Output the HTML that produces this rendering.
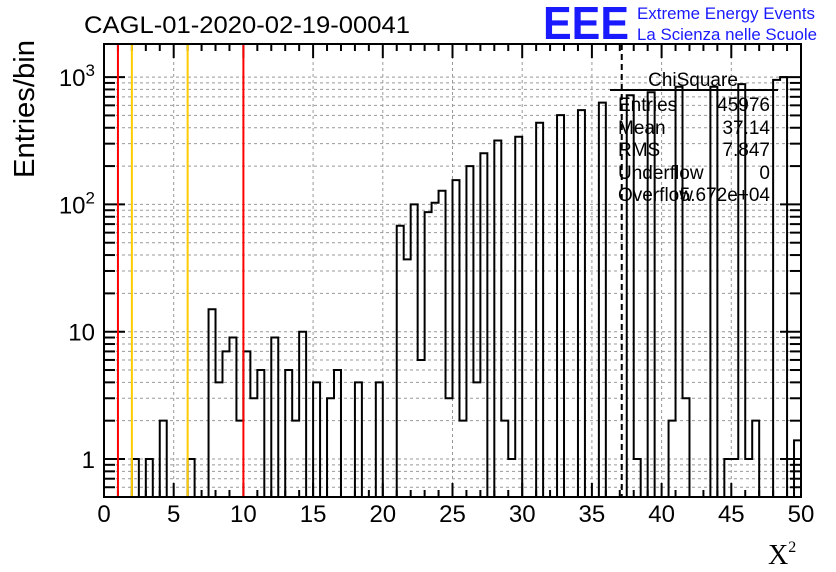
<!DOCTYPE html>
<html><head><meta charset="utf-8">
<style>
html,body{margin:0;padding:0;background:#fff;}
svg{display:block;font-family:"Liberation Sans",Arial,sans-serif;}
</style></head>
<body>
<svg id="chart" width="836" height="572" viewBox="0 0 836 572" xmlns="http://www.w3.org/2000/svg">
<rect x="0" y="0" width="836" height="572" fill="#fff"/>
<g id="grid"></g>
<path id="hist" fill="none" stroke="#000" stroke-width="2"/>
<line id="meanline" stroke="#000" stroke-width="2" stroke-dasharray="6,4"/>
<g id="axes"></g>
<g id="refs"></g>
<rect x="104" y="44" width="697" height="453" fill="none" stroke="#000" stroke-width="2"/>
<text x="84" y="33" font-size="24" textLength="326" lengthAdjust="spacingAndGlyphs">CAGL-01-2020-02-19-00041</text>
<g>
<text x="543" y="39" font-size="46" font-weight="bold" fill="#1a1aff" textLength="86" lengthAdjust="spacingAndGlyphs">EEE</text>
<text x="637" y="19" font-size="17" fill="#1a1aff" textLength="178" lengthAdjust="spacingAndGlyphs">Extreme Energy Events</text>
<text x="637" y="40" font-size="17" fill="#1a1aff" textLength="180" lengthAdjust="spacingAndGlyphs">La Scienza nelle Scuole</text>
</g>
<text transform="translate(34,178) rotate(-90)" font-size="29" textLength="138" lengthAdjust="spacingAndGlyphs">Entries/bin</text>
<text x="768" y="564" font-size="28" font-family="Liberation Serif,serif">X<tspan font-size="16" dy="-12">2</tspan></text>
<g font-size="19">
<text x="693" y="86" text-anchor="middle">ChiSquare</text>
<line x1="610" y1="90" x2="778" y2="90" stroke="#000" stroke-width="2"/>
<text x="618" y="111">Entries</text><text x="770" y="111" text-anchor="end">45976</text>
<text x="618" y="134">Mean</text><text x="770" y="134" text-anchor="end">37.14</text>
<text x="618" y="156">RMS</text><text x="770" y="156" text-anchor="end">7.847</text>
<text x="618" y="179">Underflow</text><text x="770" y="179" text-anchor="end">0</text>
<text x="618" y="201">Overflow</text><text x="770" y="201" text-anchor="end">5.672e+04</text>
</g>
</svg>
<script>
const binWidth = 0.5;
const counts = [0,0,0,0,1,0,1,0,2,0, 0,0,1,0,0,15,4,7,9,2, 7,3,5,0,9,0,5,2,10,0,
 4,0,3,5,0,0,4,0,0,4, 0,0,68,37,100,6,87,103,128,3, 155,2,200,4,252,0,318,2,1,340,
 0,0,438,0,0,503,0,0,550,0, 0,630,0,0,0,720,1,0,760,0, 0,2,840,3,0,0,0,840,0,1,
 1,880,1,2,0,0,950,1000,0,1.4];
const xTicks = [0,5,10,15,20,25,30,35,40,45,50];
const yMajor = [1,10,100,1000];
const yLabels = ["1","10","10","10"];
const yExps = ["","","2","3"];
const redLines = [1,10];
const orangeLines = [2,6];
const meanValue = 37.14;

const NS="http://www.w3.org/2000/svg";
const X0=104,X1=801,YT=44,YB=497,XMAX=50;
const sx=v=>X0+v*(X1-X0)/XMAX;
const sy=v=>{if(v<=0)return YB;const y=459-127.3*Math.log10(v);return Math.min(YB,Math.max(YT,y));};
function mk(tag,attrs,parent){const e=document.createElementNS(NS,tag);for(const k in attrs)e.setAttribute(k,attrs[k]);parent.appendChild(e);return e;}
const grid=document.getElementById('grid'),axes=document.getElementById('axes'),refs=document.getElementById('refs');
xTicks.forEach(t=>{if(t>0&&t<XMAX){const l=mk('line',{x1:sx(t),x2:sx(t),y1:YT,y2:YB,stroke:'#999','stroke-width':1,'stroke-dasharray':'3,3'},grid);

}});
const logTicks=[];
[0.1,1,10,100,1000].forEach(d=>{for(let m=1;m<10;m++){const v=d*m;const y=459-127.3*Math.log10(v);if(y<YB-0.5&&y>YT+0.5)logTicks.push(v);}});
logTicks.forEach(v=>{const l=mk('line',{x1:X0,x2:X1,y1:sy(v),y2:sy(v),stroke:'#999','stroke-width':1,'stroke-dasharray':'3,3'},grid);

});
logTicks.forEach(v=>{const major=yMajor.includes(v);const len=major?21:11;const y=sy(v);
const a=mk('line',{x1:X0,x2:X0+len,y1:y,y2:y,stroke:'#000','stroke-width':2},axes);


const b=mk('line',{x1:X1-len,x2:X1,y1:y,y2:y,stroke:'#000','stroke-width':2},axes);

});
yMajor.forEach((v,i)=>{const t=mk('text',{x:95,y:sy(v)+9,'font-size':24,'text-anchor':'end'},axes);


t.appendChild(document.createTextNode(yLabels[i]));
if(yExps[i]){const s=mk('tspan',{'font-size':17,dy:-10},t);s.textContent=yExps[i];}});
for(let v=0;v<=XMAX;v++){const major=v%5===0;const len=major?14:7;
const a=mk('line',{x1:sx(v),x2:sx(v),y1:YB,y2:YB-len,stroke:'#000','stroke-width':2},axes);


const b=mk('line',{x1:sx(v),x2:sx(v),y1:YT,y2:YT+len,stroke:'#000','stroke-width':2},axes);

}
xTicks.forEach(v=>{const t=mk('text',{x:sx(v),y:522,'font-size':24,'text-anchor':'middle'},axes);t.textContent=String(v);

});
redLines.forEach(v=>{const l=mk('line',{x1:sx(v),x2:sx(v),y1:YT,y2:YB,stroke:'#ff0000','stroke-width':2},refs);

});
orangeLines.forEach(v=>{const l=mk('line',{x1:sx(v),x2:sx(v),y1:YT,y2:YB,stroke:'#ffcc00','stroke-width':2},refs);

});
const ml=document.getElementById('meanline');
ml.setAttribute('x1',sx(meanValue));ml.setAttribute('x2',sx(meanValue));ml.setAttribute('y1',YT);ml.setAttribute('y2',YB);
let d='M'+sx(0)+','+YB;
counts.forEach((c,i)=>{const xl=sx(i*binWidth),xr=sx((i+1)*binWidth),y=sy(c);d+=' L'+xl+','+y+' L'+xr+','+y;});
d+=' L'+sx(counts.length*binWidth)+','+YB;
document.getElementById('hist').setAttribute('d',d);
</script>
</body></html>
